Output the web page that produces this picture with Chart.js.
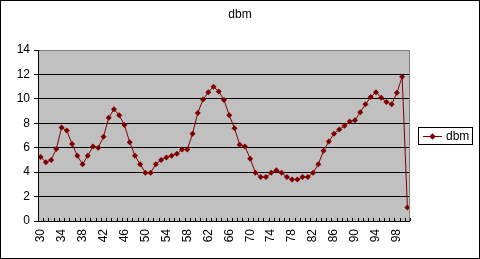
<!DOCTYPE html>
<html>
<head>
<meta charset="utf-8">
<script src="https://cdn.jsdelivr.net/npm/chart.js@4"></script>
<style>
html,body{margin:0;padding:0;background:#fff;}
#wrap{width:480px;height:259px;position:relative;}
</style>
</head>
<body>
<div id="wrap"><canvas id="c" width="480" height="259"></canvas></div>
<script>
const categories = [];
for (let v = 30; v <= 100; v++) categories.push(String(v));
const seriesName = 'dbm';
const chartTitle = 'dbm';
const dbm = [
  5.25, 4.8, 5.0, 5.9, 7.65, 7.4, 6.3, 5.35, 4.65, 5.35,
  6.1, 6.0, 6.9, 8.45, 9.15, 8.65, 7.85, 6.45, 5.35, 4.65,
  3.95, 3.95, 4.65, 5.0, 5.2, 5.35, 5.5, 5.85, 5.85, 7.15,
  8.85, 9.95, 10.55, 11.0, 10.6, 9.9, 8.65, 7.6, 6.25, 6.1,
  5.1, 3.95, 3.6, 3.6, 3.95, 4.15, 3.95, 3.6, 3.4, 3.4,
  3.6, 3.6, 3.95, 4.65, 5.75, 6.5, 7.15, 7.5, 7.8, 8.15,
  8.25, 8.9, 9.55, 10.15, 10.55, 10.1, 9.75, 9.55, 10.5, 11.8,
  1.1
];
const yTicks = [0, 2, 4, 6, 8, 10, 12, 14];
const lineColor = '#800000';
const FONT = '"Liberation Sans", Arial, sans-serif';

const decor = {
  id: 'decor',
  beforeDraw(chart) {
    const {ctx, chartArea: a} = chart;
    ctx.save();
    ctx.fillStyle = '#C0C0C0';
    ctx.fillRect(a.left, a.top, a.right - a.left, a.bottom - a.top);
    ctx.restore();
  },
  afterDraw(chart) {
    const {ctx, chartArea: a} = chart;
    const xs = chart.scales.x;
    ctx.save();
    // title
    ctx.fillStyle = '#000';
    ctx.font = '12px ' + FONT;
    ctx.textAlign = 'center';
    ctx.textBaseline = 'middle';
    ctx.fillText(chartTitle, chart.width / 2, 15);
    // plot border
    ctx.strokeStyle = '#808080';
    ctx.lineWidth = 1;
    ctx.strokeRect(Math.round(a.left) + 0.5, Math.round(a.top) + 0.5, Math.round(a.right - a.left) - 1, Math.round(a.bottom - a.top));
    // axis lines
    ctx.strokeStyle = '#000';
    ctx.beginPath();
    ctx.moveTo(Math.round(a.left) + 0.5, a.top);
    ctx.lineTo(Math.round(a.left) + 0.5, a.bottom);
    ctx.moveTo(a.left, Math.round(a.bottom) + 0.5);
    ctx.lineTo(a.right, Math.round(a.bottom) + 0.5);
    // category boundary ticks (inside)
    const n = categories.length;
    const w = (a.right - a.left) / n;
    for (let i = 0; i <= n; i++) {
      const x = Math.round(xs.getPixelForValue(Math.min(i, n - 1)) + (i < n ? -w / 2 : w / 2)) + 0.5;
      ctx.moveTo(x, Math.round(a.bottom) - 3);
      ctx.lineTo(x, Math.round(a.bottom));
    }
    ctx.stroke();
    // legend
    const ds = chart.data.datasets[0];
    const bx = 418.5, by = 127.5, bw = 54, bh = 17;
    ctx.fillStyle = '#fff';
    ctx.fillRect(bx, by, bw, bh);
    ctx.strokeStyle = '#000';
    ctx.strokeRect(bx, by, bw, bh);
    const ly = Math.round(by + bh / 2);
    ctx.strokeStyle = ds.borderColor;
    ctx.beginPath();
    ctx.moveTo(423, ly + 0.5);
    ctx.lineTo(442, ly + 0.5);
    ctx.stroke();
    ctx.fillStyle = ds.borderColor;
    ctx.beginPath();
    const mx = 432.5, my = ly + 0.5, r = 3.2;
    ctx.moveTo(mx, my - r); ctx.lineTo(mx + r, my); ctx.lineTo(mx, my + r); ctx.lineTo(mx - r, my); ctx.closePath();
    ctx.fill();
    ctx.fillStyle = '#000';
    ctx.font = '12px ' + FONT;
    ctx.textBaseline = 'middle';
    ctx.textAlign = 'left';
    ctx.fillText(ds.label, 446, ly + 1);
    // outer border
    ctx.strokeStyle = '#000';
    ctx.strokeRect(0.5, 0.5, chart.width - 1, chart.height - 1);
    ctx.restore();
  }
};

new Chart(document.getElementById('c'), {
  type: 'line',
  data: {
    labels: categories,
    datasets: [{
      label: seriesName,
      data: dbm,
      borderColor: lineColor,
      backgroundColor: lineColor,
      borderWidth: 1,
      pointStyle: 'rectRot',
      pointRadius: 3,
      pointBorderWidth: 0,
      pointBackgroundColor: lineColor,
      tension: 0
    }]
  },
  options: {
    responsive: false,
    animation: false,
    devicePixelRatio: 1,
    layout: {padding: {left: 0, right: 70, top: 50, bottom: 0}},
    plugins: {
      legend: {display: false},
      tooltip: {enabled: false},
      title: {display: false}
    },
    scales: {
      x: {
        offset: true,
        grid: {display: false, drawTicks: false},
        border: {display: false},
        ticks: {
          autoSkip: false,
          minRotation: 90,
          maxRotation: 90,
          padding: 8,
          color: '#000',
          font: {family: FONT, size: 12},
          callback: function(value, index) { return index % 4 === 0 ? categories[index] : ''; }
        },
        afterFit(scale) { scale.height = 38; }
      },
      y: {
        min: 0,
        max: 14,
        afterBuildTicks(scale) { scale.ticks = yTicks.map(v => ({value: v})); },
        grid: {
          color: (c) => (c.tick && c.tick.value === 14) ? 'rgba(0,0,0,0)' : '#000',
          tickColor: '#000',
          tickLength: 4,
          lineWidth: 1
        },
        border: {display: false},
        ticks: {
          padding: 4,
          color: '#000',
          font: {family: FONT, size: 12}
        },
        afterFit(scale) { scale.width = 38; }
      }
    }
  },
  plugins: [decor]
});
</script>
</body>
</html>
